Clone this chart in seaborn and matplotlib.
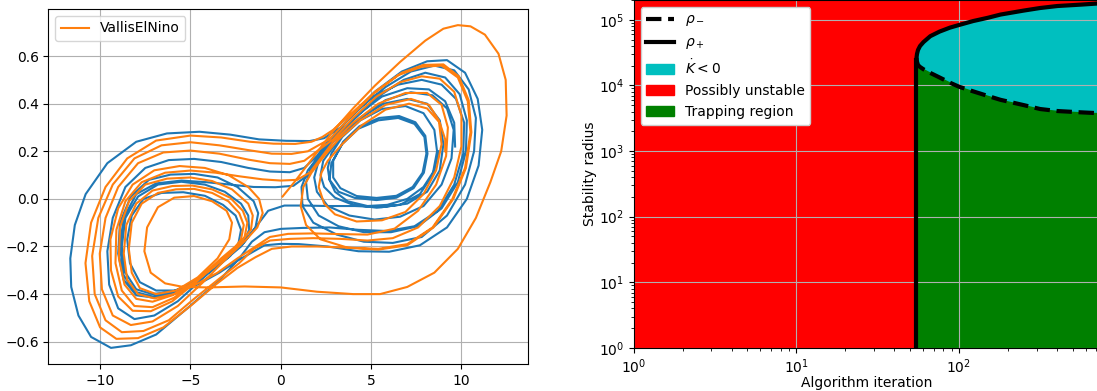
import numpy as np
import pandas as pd
import matplotlib
matplotlib.use("Agg")
import matplotlib.pyplot as plt
import seaborn as sns

# ---------------- left panel: phase portrait (x, y), traced lap by lap ----------------
blue_path = [
    # start in right lobe
    (8.75, 0.20), (8.5, 0.12), (7.9, 0.05), (7.0, 0.0), (5.9, -0.025), (4.8, -0.03), (3.7, -0.01), (3.0, 0.03), (2.7, 0.08),
    # inner right loops
    (2.8, 0.15), (3.4, 0.23), (4.3, 0.295), (5.4, 0.33), (6.5, 0.34), (7.4, 0.315), (7.95, 0.26), (8.06, 0.19), (7.85, 0.11),
    (7.3, 0.05), (6.4, 0.013), (5.3, 0.004), (4.2, 0.012), (3.3, 0.045), (2.9, 0.09),
    (2.9, 0.16), (3.45, 0.24), (4.35, 0.305), (5.45, 0.34), (6.55, 0.348), (7.45, 0.322), (8.0, 0.265), (8.12, 0.19), (7.92, 0.11),
    (7.35, 0.045), (6.4, 0.005), (5.3, -0.005), (4.1, 0.004), (3.2, 0.03), (2.7, 0.08), (2.6, 0.13),
    (2.8, 0.19), (3.4, 0.26), (4.4, 0.33), (5.6, 0.378), (6.9, 0.39), (7.9, 0.36), (8.5, 0.29), (8.65, 0.2), (8.4, 0.1),
    (7.7, 0.02), (6.6, -0.025), (5.3, -0.037), (4.0, -0.025), (3.0, 0.005), (2.4, 0.05), (2.2, 0.1),
    (2.35, 0.16), (3.2, 0.25), (4.4, 0.34), (5.8, 0.415), (7.2, 0.448), (8.4, 0.435), (9.2, 0.38), (9.57, 0.29), (9.45, 0.17),
    (8.9, 0.06), (7.9, -0.03), (6.6, -0.075), (5.2, -0.087), (3.8, -0.07), (2.6, -0.03), (2.0, 0.03), (1.85, 0.09),
    (2.1, 0.16), (2.8, 0.23), (4.0, 0.33), (5.4, 0.43), (6.8, 0.5), (8.0, 0.53), (9.1, 0.51), (9.9, 0.44), (10.3, 0.33),
    (10.25, 0.2), (9.8, 0.07), (8.9, -0.04), (7.6, -0.115), (6.1, -0.14), (4.6, -0.14), (3.2, -0.115), (2.1, -0.07), (1.5, 0.0),
    (1.4, 0.07),
    # outer right loop, over to the left lobe
    (1.75, 0.14), (2.6, 0.23), (3.8, 0.34), (5.2, 0.45), (6.7, 0.535), (8.1, 0.578), (9.2, 0.583), (10.2, 0.53), (10.9, 0.42),
    (11.15, 0.29), (10.95, 0.14), (10.3, 0.0), (9.2, -0.12), (7.7, -0.195), (6.0, -0.222), (4.3, -0.22), (2.6, -0.2), (1.0, -0.19),
    (0.0, -0.189), (-0.9, -0.195), (-1.6, -0.225),
    # left lobe loops
    (-2.4, -0.26), (-3.4, -0.31), (-4.6, -0.36), (-5.8, -0.385), (-6.9, -0.385), (-7.8, -0.35), (-8.35, -0.27), (-8.5, -0.17),
    (-8.25, -0.07), (-7.6, 0.0), (-6.6, 0.025), (-5.4, 0.028), (-4.2, 0.013), (-3.2, -0.025), (-2.5, -0.07), (-2.2, -0.13),
    (-2.35, -0.19), (-2.8, -0.24), (-3.6, -0.29), (-4.8, -0.35), (-6.0, -0.39), (-7.1, -0.4), (-8.0, -0.38), (-8.6, -0.31),
    (-8.8, -0.2), (-8.6, -0.08), (-7.9, 0.01), (-6.8, 0.06), (-5.5, 0.072), (-4.2, 0.06), (-3.1, 0.03), (-2.2, -0.02),
    (-1.8, -0.07), (-1.75, -0.13), (-2.1, -0.19), (-3.2, -0.25), (-4.5, -0.33), (-5.8, -0.39), (-7.0, -0.415), (-8.0, -0.405),
    (-8.7, -0.34), (-9.0, -0.23), (-8.9, -0.1), (-8.3, 0.01), (-7.3, 0.08), (-6.1, 0.102), (-4.8, 0.105), (-3.5, 0.09),
    (-2.4, 0.05), (-1.5, -0.01), (-1.25, -0.06), (-1.4, -0.12),
    (-2.0, -0.18), (-3.1, -0.25), (-4.4, -0.34), (-5.7, -0.43), (-7.0, -0.49), (-8.1, -0.505), (-9.0, -0.46), (-9.5, -0.36),
    (-9.6, -0.22), (-9.3, -0.08), (-8.6, 0.05), (-7.5, 0.13), (-6.2, 0.163), (-4.8, 0.168), (-3.3, 0.155), (-1.8, 0.13),
    (-0.6, 0.115), (0.5, 0.112), (1.3, 0.13), (2.0, 0.18),
    # right lobe again
    (2.7, 0.25), (3.8, 0.34), (5.1, 0.43), (6.5, 0.48), (7.8, 0.5), (8.9, 0.48), (9.7, 0.42), (10.15, 0.32), (10.1, 0.19),
    (9.6, 0.06), (8.7, -0.05), (7.4, -0.115), (5.9, -0.135), (4.3, -0.13), (2.7, -0.12), (1.2, -0.122), (0.0, -0.126),
    (-0.9, -0.14), (-1.6, -0.18),
    # outer left loop
    (-2.3, -0.25), (-3.4, -0.343), (-5.1, -0.455), (-6.9, -0.57), (-8.3, -0.615), (-9.4, -0.626), (-10.5, -0.58), (-11.2, -0.49),
    (-11.6, -0.37), (-11.65, -0.25), (-11.4, -0.11), (-10.8, 0.02), (-9.6, 0.15), (-8.0, 0.24), (-6.3, 0.275), (-4.5, 0.282),
    (-2.8, 0.27), (-1.2, 0.25), (0.3, 0.244), (1.6, 0.243), (2.4, 0.255),
    (3.3, 0.3), (4.5, 0.39), (5.8, 0.47), (7.2, 0.535), (8.5, 0.56), (9.6, 0.54), (10.4, 0.46), (10.8, 0.34), (10.7, 0.2),
    (10.2, 0.06), (9.2, -0.07), (7.8, -0.16), (6.2, -0.185), (4.6, -0.18), (3.1, -0.15), (1.8, -0.1), (1.2, -0.03), (1.15, 0.05),
    (1.5, 0.12), (2.3, 0.2), (3.2, 0.27), (4.4, 0.34), (5.7, 0.4), (7.0, 0.42), (8.1, 0.4), (8.8, 0.33), (9.0, 0.23), (8.8, 0.12),
    (8.1, 0.03), (7.0, -0.02), (5.6, -0.035), (4.1, -0.03), (2.6, -0.03), (1.3, -0.028), (0.2, -0.028), (-0.7, -0.05), (-1.3, -0.11),
    (-2.2, -0.2), (-3.3, -0.27), (-4.6, -0.34), (-5.9, -0.39), (-7.1, -0.41), (-8.1, -0.39), (-8.7, -0.32), (-8.9, -0.2),
    (-8.7, -0.08), (-8.0, 0.02), (-6.9, 0.065), (-5.5, 0.077), (-4.1, 0.07), (-2.8, 0.06), (-1.5, 0.05), (-0.3, 0.049),
    (0.7, 0.055), (1.5, 0.1), (2.2, 0.18),
    (3.0, 0.26), (4.2, 0.35), (5.6, 0.43), (7.0, 0.465), (8.2, 0.46), (9.1, 0.41), (9.6, 0.32), (9.65, 0.22),
]

orange_path = [
    # big outer loop and the bottom strand
    (0.1, 0.01), (0.8, 0.075), (1.8, 0.175), (2.9, 0.285), (4.0, 0.38), (5.2, 0.475), (6.6, 0.575), (8.0, 0.665), (9.0, 0.715),
    (9.8, 0.73), (10.5, 0.725), (11.3, 0.69), (12.05, 0.61), (12.45, 0.5), (12.5, 0.35), (12.2, 0.2), (11.6, 0.07), (10.8, -0.08),
    (9.8, -0.21), (8.5, -0.31), (7.0, -0.37), (5.5, -0.4), (4.0, -0.4), (2.0, -0.39), (0.0, -0.372), (-2.0, -0.368), (-4.0, -0.372),
    (-5.4, -0.37), (-6.4, -0.355), (-7.2, -0.31), (-7.55, -0.22), (-7.4, -0.12), (-6.8, -0.035), (-5.9, 0.005), (-4.8, 0.012),
    (-3.8, -0.01), (-3.0, -0.05), (-2.7, -0.1), (-2.85, -0.17), (-3.5, -0.25), (-4.6, -0.33),
    # left lobe loops
    (-5.8, -0.385), (-6.9, -0.4), (-7.8, -0.375), (-8.25, -0.31), (-8.41, -0.21), (-8.25, -0.1),
    (-7.7, -0.02), (-6.8, 0.025), (-5.8, 0.04), (-4.8, 0.042), (-3.8, 0.025), (-2.9, -0.01), (-2.3, -0.06), (-2.05, -0.11),
    (-2.2, -0.17), (-2.7, -0.22), (-3.6, -0.28), (-4.8, -0.35), (-6.0, -0.405), (-7.1, -0.432), (-8.0, -0.42), (-8.65, -0.36),
    (-8.96, -0.25), (-8.9, -0.12), (-8.4, -0.01), (-7.5, 0.06), (-6.3, 0.085), (-5.0, 0.09), (-3.8, 0.075), (-2.7, 0.04),
    (-1.8, -0.02), (-1.55, -0.07), (-1.65, -0.13),
    (-2.2, -0.18), (-3.3, -0.25), (-4.6, -0.34), (-5.9, -0.415), (-7.1, -0.455), (-8.1, -0.45), (-8.8, -0.385), (-9.15, -0.27),
    (-9.1, -0.13), (-8.6, -0.01), (-7.7, 0.07), (-6.4, 0.11), (-5.0, 0.119), (-3.6, 0.11), (-2.3, 0.095), (-1.0, 0.082),
    (0.0, 0.077), (0.9, 0.08), (1.6, 0.11), (2.2, 0.17),
    (2.9, 0.24), (4.0, 0.32), (5.4, 0.4), (6.9, 0.445), (8.1, 0.445), (8.9, 0.395), (9.25, 0.3), (9.15, 0.18), (8.6, 0.06),
    (7.6, -0.05), (6.3, -0.125), (4.8, -0.15), (3.3, -0.148), (1.8, -0.145), (0.4, -0.147), (-0.6, -0.16), (-1.4, -0.2),
    (-2.4, -0.25), (-3.5, -0.31), (-4.7, -0.36), (-5.9, -0.4), (-7.0, -0.418), (-7.9, -0.4), (-8.5, -0.34), (-8.69, -0.23),
    (-8.55, -0.11), (-8.0, -0.02), (-7.1, 0.035), (-6.0, 0.054), (-4.9, 0.056), (-3.8, 0.04), (-2.8, 0.005), (-2.1, -0.05),
    (-1.85, -0.1), (-2.0, -0.16),
    (-2.5, -0.21), (-3.5, -0.27), (-4.7, -0.35), (-6.0, -0.43), (-7.2, -0.472), (-8.2, -0.47), (-9.0, -0.41), (-9.4, -0.3),
    (-9.43, -0.17), (-9.0, -0.04), (-8.2, 0.06), (-7.0, 0.12), (-5.6, 0.138), (-4.2, 0.13), (-2.9, 0.1), (-1.8, 0.05),
    (-1.2, 0.0), (-1.0, -0.06), (-1.3, -0.12),
    (-1.9, -0.17), (-3.0, -0.25), (-4.3, -0.35), (-5.7, -0.45), (-7.1, -0.515), (-8.3, -0.53), (-9.3, -0.49), (-9.9, -0.38),
    (-10.02, -0.23), (-9.7, -0.08), (-9.0, 0.05), (-7.9, 0.15), (-6.5, 0.195), (-5.0, 0.203), (-3.4, 0.19), (-1.8, 0.165),
    (-0.6, 0.15), (0.5, 0.147), (1.3, 0.16), (2.0, 0.2),
    (2.9, 0.25), (4.0, 0.34), (5.3, 0.43), (6.6, 0.49), (7.8, 0.515), (8.8, 0.505), (9.6, 0.45), (10.0, 0.35), (10.0, 0.22),
    (9.6, 0.09), (8.8, -0.03), (7.6, -0.12), (6.2, -0.165), (4.8, -0.175), (3.3, -0.168), (1.8, -0.165), (0.5, -0.168),
    (-0.6, -0.175), (-1.5, -0.21),
    (-2.3, -0.27), (-3.4, -0.335), (-4.8, -0.42), (-6.2, -0.51), (-7.6, -0.555), (-8.8, -0.56), (-9.7, -0.51), (-10.3, -0.4),
    (-10.44, -0.24), (-10.1, -0.08), (-9.3, 0.06), (-8.1, 0.17), (-6.6, 0.225), (-5.0, 0.238), (-3.4, 0.225), (-1.8, 0.205),
    (-0.5, 0.19), (0.6, 0.189), (1.5, 0.2), (2.2, 0.23),
    (2.7, 0.25), (3.8, 0.34), (5.1, 0.44), (6.5, 0.52), (7.8, 0.555), (8.9, 0.56), (9.8, 0.51), (10.35, 0.41), (10.5, 0.28),
    (10.2, 0.13), (9.5, 0.0), (8.4, -0.12), (7.0, -0.19), (5.4, -0.21), (3.7, -0.205), (2.0, -0.2), (0.6, -0.2),
    (-0.5, -0.21), (-1.4, -0.245),
    (-2.4, -0.29), (-3.6, -0.36), (-5.0, -0.45), (-6.5, -0.54), (-7.9, -0.585), (-9.1, -0.588), (-10.0, -0.54), (-10.6, -0.43),
    (-10.81, -0.27), (-10.5, -0.1), (-9.7, 0.05), (-8.5, 0.17), (-6.9, 0.245), (-5.0, 0.266), (-3.3, 0.258), (-1.7, 0.24),
    (-0.4, 0.232), (0.8, 0.231), (1.7, 0.24), (2.3, 0.26),
    # right lobe, ending near the start point
    (2.9, 0.29), (4.0, 0.365), (5.3, 0.455), (6.7, 0.53), (7.9, 0.563), (9.0, 0.565), (9.85, 0.515), (10.4, 0.415), (10.55, 0.28),
    (10.25, 0.13), (9.55, 0.0), (8.45, -0.12), (7.0, -0.195), (5.4, -0.213), (3.7, -0.205), (2.2, -0.17), (1.4, -0.11),
    (1.1, -0.03), (1.25, 0.05), (1.7, 0.11),
    (2.4, 0.18), (3.2, 0.25), (4.4, 0.33), (5.8, 0.395), (7.2, 0.42), (8.2, 0.395), (8.75, 0.33), (8.9, 0.23), (8.6, 0.12),
    (7.9, 0.02), (6.9, -0.055), (5.6, -0.09), (4.2, -0.095), (3.0, -0.065), (2.4, -0.02), (2.1, 0.05), (2.25, 0.11),
    (2.6, 0.16), (3.4, 0.23), (4.5, 0.31), (5.8, 0.375), (7.1, 0.4), (8.1, 0.38), (8.8, 0.32), (9.1, 0.25), (9.1, 0.2),
]
model_label = "VallisElNino"

# ---------------- right panel: stability radius vs iteration ----------------
iterations = [54.8, 55.2, 56.0, 57.6, 60.5, 66.6, 76, 88, 100, 122, 150, 180, 250, 315, 403, 560, 740]
rho_plus = [2.63e4, 3.02e4, 3.47e4, 3.98e4, 4.57e4, 5.62e4, 6.61e4, 7.59e4, 8.32e4, 9.55e4, 1.07e5, 1.20e5,
            1.38e5, 1.51e5, 1.62e5, 1.70e5, 1.78e5]
rho_minus = [2.63e4, 2.29e4, 2.04e4, 1.91e4, 1.76e4, 1.55e4, 1.32e4, 1.10e4, 9.55e3, 8.13e3, 6.92e3, 6.03e3,
             5.01e3, 4.37e3, 4.07e3, 3.89e3, 3.76e3]
iter_range = [1, 740]
radius_range = [1, 2.0e5]
region_labels = [r'$\rho_-$', r'$\rho_+$', r'$\dot{K} < 0$', 'Possibly unstable', 'Trapping region']

fig = plt.figure(figsize=(10.97, 3.91), dpi=100)
ax1 = fig.add_axes([0.0442, 0.069, 0.4375, 0.908])
ax2 = fig.add_axes([0.5776, 0.110, 0.4255, 0.890])

# phase portrait
blue_df = pd.DataFrame(blue_path, columns=["x", "y"])
orange_df = pd.DataFrame(orange_path, columns=["x", "y"])
sns.lineplot(data=blue_df, x="x", y="y", sort=False, estimator=None, color="C0", ax=ax1)
sns.lineplot(data=orange_df, x="x", y="y", sort=False, estimator=None, color="C1",
             label=model_label, ax=ax1)
ax1.set(xlabel="", ylabel="")
ax1.grid(True)
ax1.legend(loc="upper left")

# stability regions
its = np.array(iterations)
rp = np.array(rho_plus)
rm = np.array(rho_minus)
ax2.set_xscale("log")
ax2.set_yscale("log")
ax2.fill_between(its, rm, rp, color="c", label=region_labels[2])
ax2.fill_between(iter_range, radius_range[0], radius_range[1], color="r", zorder=0,
                 label=region_labels[3])
ax2.fill_between(its, radius_range[0], rm, color="g", label=region_labels[4])
sns.lineplot(x=its, y=rm, color="k", linestyle="--", linewidth=3, estimator=None,
             label=region_labels[0], ax=ax2)
sns.lineplot(x=its, y=rp, color="k", linewidth=3, estimator=None,
             label=region_labels[1], ax=ax2)
ax2.vlines(its[0], radius_range[0], rp[0], color="k", linewidth=3)
ax2.set_xlim(iter_range)
ax2.set_ylim(radius_range)
ax2.grid(True)
ax2.set_xlabel("Algorithm iteration", labelpad=0)
ax2.set_ylabel("Stability radius", labelpad=1)

handles, labels = ax2.get_legend_handles_labels()
lookup = dict(zip(labels, handles))
ax2.legend([lookup[l] for l in region_labels], region_labels, loc="upper left", framealpha=1)

fig.savefig("out.png", dpi=100)
